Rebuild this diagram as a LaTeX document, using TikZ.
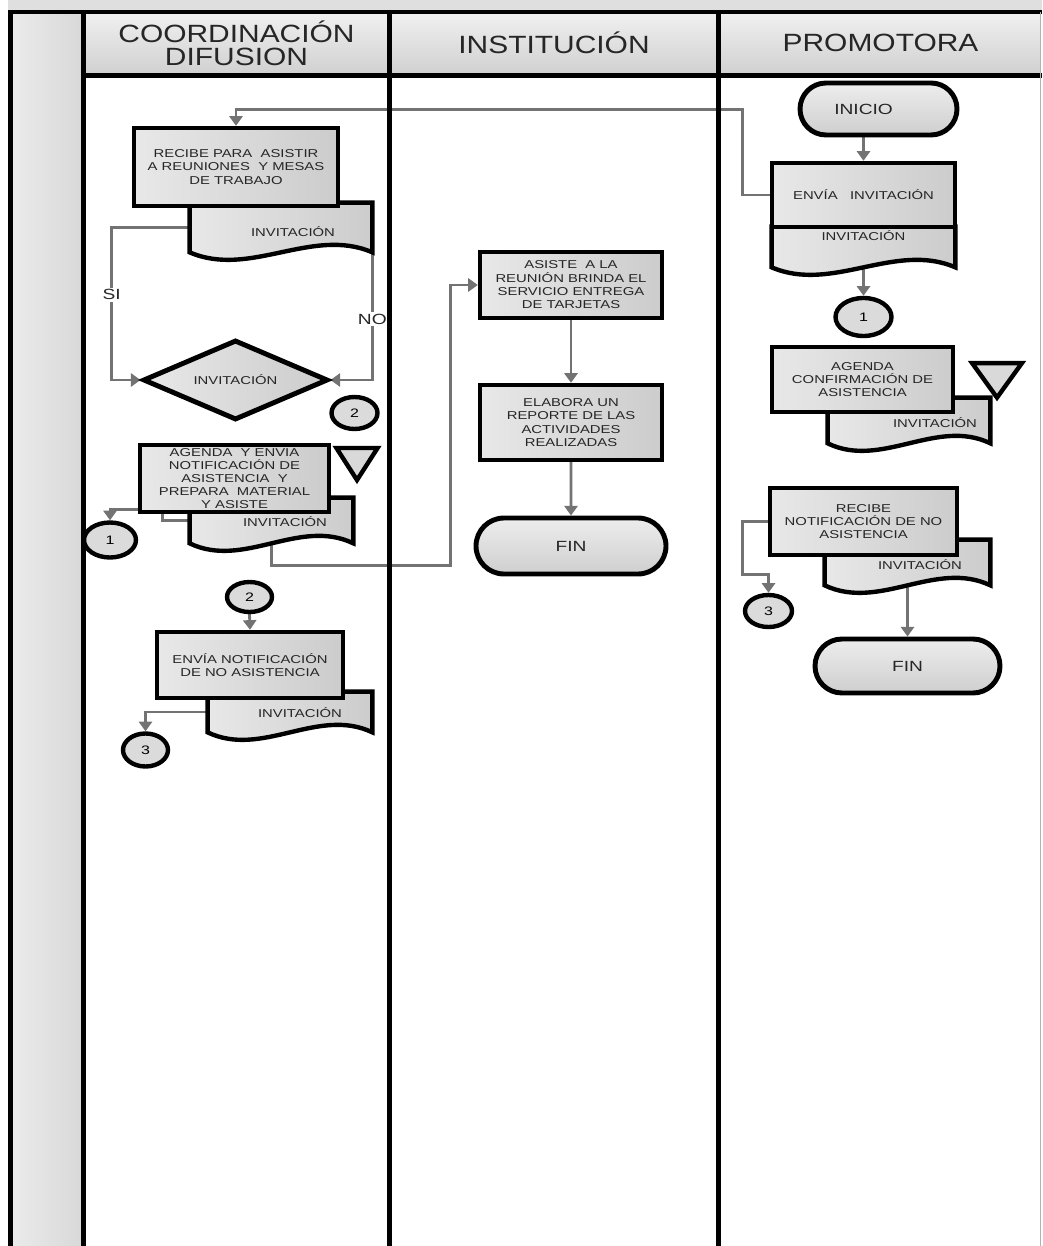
\documentclass[tikz,border=0pt]{standalone}
\usepackage{fontspec}
\usetikzlibrary{shapes.geometric,shapes.misc,arrows.meta,calc,backgrounds}
\newfontfamily\flowfont{Liberation Sans}[FakeStretch=1.3]
\newfontfamily\headfont{Liberation Sans}[FakeStretch=1.2]
\newcommand\pxs{0.02cm}
\newcommand\boxfont{\flowfont\fontsize{6.5pt}{7.6pt}\selectfont}
\newcommand\termfont{\flowfont\fontsize{8.4pt}{10pt}\selectfont}
\newcommand\numfont{\flowfont\fontsize{7pt}{8pt}\selectfont}
\newcommand\lblfont{\flowfont\fontsize{8.4pt}{10pt}\selectfont}
\newcommand\lanefont{\headfont\fontsize{14.2pt}{13.1pt}\selectfont}
\newcommand\docshape[1]{\draw[docline] (#1.north west) -- (#1.north east) -- (#1.south east)
  .. controls ($(#1.south east)!.33!(#1.south west)+(0,-26)$) and ($(#1.south west)!.33!(#1.south east)+(0,26)$) .. (#1.south west) -- cycle;}
\tikzset{
  lanerule/.style={line width=2.7pt},
  lanehead/.style={inner sep=0, minimum height=60*\pxs, top color=gray!12, bottom color=gray!36, font=\lanefont, text=black!85, align=center},
  proc/.style={draw, line width=2.5pt, left color=gray!18, right color=gray!40, inner sep=0, font=\boxfont, text=black!85, align=center},
  docbox/.style={inner sep=0},
  docline/.style={draw, line width=2.5pt, left color=gray!18, right color=gray!40},
  doctext/.style={inner sep=0, font=\boxfont, text=black!85},
  term/.style={rounded rectangle, draw, line width=2.8pt, top color=gray!14, bottom color=gray!38, inner sep=0, font=\termfont, text=black!85},
  conn/.style={ellipse, draw, line width=2.5pt, fill=gray!28, inner sep=0, font=\numfont},
  dec/.style={diamond, draw, line width=2.8pt, left color=gray!18, right color=gray!40, inner sep=0, shape aspect=2.3, font=\boxfont, text=black!85},
  tri/.style={regular polygon, regular polygon sides=3, shape border rotate=180, draw, line width=2.5pt, fill=gray!30, inner sep=0},
  flow/.style={draw=black!55, line width=1.6pt, -{Triangle[width=7.5pt,length=5.5pt]}},
  lbl/.style={fill=white, inner sep=1pt, font=\lblfont, text=black!85}
}
\begin{document}
\begin{tikzpicture}[x=\pxs, y=-\pxs]
  \useasboundingbox (0,0) rectangle (1042,1246);
  \fill[gray!25] (8,0) rectangle (1042,12);
  \fill[left color=gray!16, right color=gray!30] (13,14) rectangle (81,1246);
  \foreach \hname/\hx/\hw/\htext in {hcoord/236.5/302/{COORDINACIÓN\\DIFUSION}, hinst/554/325/INSTITUCIÓN, hprom/880.5/320/PROMOTORA}
    \node[lanehead, minimum width=\hw*\pxs] (\hname) at (\hx,43) {\htext};
  \foreach \x in {10.5,83.5,389.5,718.5}
    \draw[lanerule] (\x,12) -- (\x,1246);
  \draw[lanerule] (8,12) -- (1042,12);
  \draw[lanerule] (81,75.5) -- (1042,75.5);
  \draw[gray!60, line width=0.6pt] (1040.5,12) -- (1040.5,1246);

  \node[docbox, minimum width=182*\pxs, minimum height=49*\pxs] (docrec) at (281,227.5) {};
  \docshape{docrec}
  \node[doctext] (docrect) at (293,232) {INVITACIÓN};
  \node[proc, minimum width=204*\pxs, minimum height=78*\pxs] (recibe) at (236,167) {RECIBE PARA \ ASISTIR\\A REUNIONES \ Y MESAS\\DE TRABAJO};
  \node[dec, minimum width=185*\pxs, minimum height=80*\pxs] (dia) at (235.5,380) {INVITACIÓN};
  \node[conn, minimum width=46*\pxs, minimum height=32*\pxs] (c2a) at (354.5,413) {2};
  \node[docbox, minimum width=163*\pxs, minimum height=45*\pxs] (docag) at (271.5,520.5) {};
  \docshape{docag}
  \node[doctext] (docagt) at (285,522) {INVITACIÓN};
  \node[proc, draw=none, minimum width=185*\pxs, minimum height=63*\pxs] (agenda) at (234.5,478.5) {};
  \node[doctext, align=center, font=\flowfont\fontsize{6.5pt}{7.4pt}\selectfont] (agendat) at (agenda.center) {AGENDA \ Y ENVIA\\NOTIFICACIÓN DE\\ASISTENCIA \ Y\\PREPARA \ MATERIAL\\Y ASISTE};
  \draw[line width=2.5pt] (agenda.north west) rectangle (agenda.south east);
  \node[tri, minimum size=0.95cm, yscale=0.9] (triag) at (357,458.7) {};
  \node[conn, minimum width=52*\pxs, minimum height=35*\pxs] (c1a) at (110,540) {1};
  \node[conn, minimum width=45*\pxs, minimum height=30*\pxs] (c2b) at (249.5,597) {2};
  \node[docbox, minimum width=164*\pxs, minimum height=40*\pxs] (docno) at (290,712) {};
  \docshape{docno}
  \node[doctext] (docnot) at (300,713) {INVITACIÓN};
  \node[proc, minimum width=186*\pxs, minimum height=66*\pxs] (envno) at (250,665) {ENVÍA NOTIFICACIÓN\\DE NO ASISTENCIA};
  \node[conn, minimum width=45*\pxs, minimum height=33*\pxs] (c3a) at (145.5,750) {3};

  \node[proc, minimum width=182*\pxs, minimum height=66*\pxs] (asiste) at (571,285) {ASISTE \ A LA\\REUNIÓN BRINDA EL\\SERVICIO ENTREGA\\DE TARJETAS};
  \node[proc, minimum width=182*\pxs, minimum height=75*\pxs] (elabora) at (571,422.5) {ELABORA UN\\REPORTE DE LAS\\ACTIVIDADES\\REALIZADAS};
  \node[term, minimum width=190*\pxs, minimum height=56*\pxs] (fin1) at (571,546) {FIN};

  \node[term, minimum width=157*\pxs, minimum height=52*\pxs] (inicio) at (878.5,109) {INICIO\hspace*{17pt}};
  \node[docbox, minimum width=183*\pxs, minimum height=40*\pxs] (docenv) at (863.5,247) {};
  \docshape{docenv}
  \node[doctext] (docenvt) at (863.5,236) {INVITACIÓN};
  \node[proc, minimum width=183*\pxs, minimum height=64*\pxs] (envia) at (863.5,195) {ENVÍA \ \ INVITACIÓN};
  \node[conn, minimum width=56*\pxs, minimum height=38*\pxs] (c1b) at (863.5,317) {1};
  \node[docbox, minimum width=162*\pxs, minimum height=45*\pxs] (docconf) at (909,420.5) {};
  \docshape{docconf}
  \node[doctext] (docconft) at (935,423) {INVITACIÓN};
  \node[proc, minimum width=181*\pxs, minimum height=65*\pxs] (confirma) at (862.5,379.5) {AGENDA\\CONFIRMACIÓN DE\\ASISTENCIA};
  \node[tri, minimum size=1.15cm, yscale=0.8] (triconf) at (997,374.6) {};
  \node[docbox, minimum width=165*\pxs, minimum height=45*\pxs] (docrecno) at (907.5,562.5) {};
  \docshape{docrecno}
  \node[doctext] (docrecnot) at (920,565) {INVITACIÓN};
  \node[proc, minimum width=187*\pxs, minimum height=67*\pxs] (recno) at (863.5,521.5) {RECIBE\\NOTIFICACIÓN DE NO\\ASISTENCIA};
  \node[conn, minimum width=47*\pxs, minimum height=32*\pxs] (c3b) at (768.5,611) {3};
  \node[term, minimum width=185*\pxs, minimum height=54*\pxs] (fin2) at (907.5,666) {FIN};

  \begin{scope}[on background layer]
    \draw[flow] (envia.west) -- ++(-27,0) |- ($(recibe.north)+(0,-16)$) -- (recibe.north);
    \draw[flow] (docrec.west) -- ++(-78,0) |- (dia.west) node[lbl, pos=0.22] {SI};
    \draw[flow] (docrec.east) |- (dia.east) node[lbl, pos=0.3] {NO};
    \draw[flow] (docag.west) -- ++(-27,0) |- ($(c1a.north)+(0,-11)$) -- (c1a.north);
    \draw[flow] (docag.south) -- ++(0,22) -| ($(asiste.west)+(-27,0)$) -- (asiste.west);
    \draw[flow] (c2b.south) -- (envno.north);
    \draw[flow] (docno.west) -| (c3a.north);
    \draw[flow] (asiste) -- (elabora);
    \draw[flow] (elabora) -- (fin1);
    \draw[flow] (inicio.south -| envia.north) -- (envia.north);
    \draw[flow] (docenv.south) -- (c1b);
    \draw[flow] (recno.west) -- ++(-25,0) |- ($(c3b.north)+(0,-18)$) -- (c3b.north);
    \draw[flow] (docrecno.south) -- (fin2);
  \end{scope}
\end{tikzpicture}
\end{document}
